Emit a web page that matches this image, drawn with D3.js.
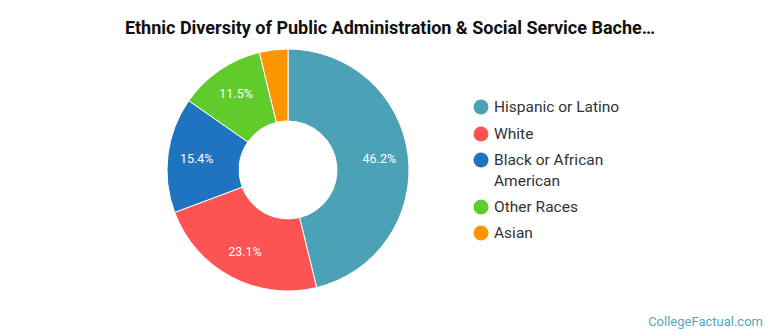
<!DOCTYPE html>
<html>
<head>
<meta charset="utf-8">
<script src="https://cdn.jsdelivr.net/npm/d3@7"></script>
<style>
  body { margin: 0; background: #fff; }
  text { font-family: Roboto, "Noto Sans", sans-serif; }
</style>
</head>
<body>
<div id="chart"></div>
<script>
const categories = ['Hispanic or Latino', 'White', 'Black or African American', 'Other Races', 'Asian']
const shares = [46.2, 23.1, 15.4, 11.5, 3.8]
const colors = ['#4ba1b6', '#fd5353', '#1f74c0', '#60cb2b', '#fd9500']
// legend lines; the long name wraps onto two rows
const legendLines = [['Hispanic or Latino'], ['White'], ['Black or African', 'American'], ['Other Races'], ['Asian']]

const width = 770
const height = 335

const svg = d3.select('#chart')
  .append('svg')
  .attr('width', width)
  .attr('height', height)

svg.append('text')
  .attr('x', 390)
  .attr('y', 34)
  .attr('text-anchor', 'middle')
  .attr('font-size', 18)
  .attr('font-weight', 'bold')
  .attr('fill', '#111')
  .text('Ethnic Diversity of Public Administration & Social Service Bache…')

const cx = 288
const cy = 170
const outer = 121
const inner = 49

const pie = d3.pie().sort(null).value((d) => d)
const arc = d3.arc().innerRadius(inner).outerRadius(outer)
const labelArc = d3.arc().innerRadius(92).outerRadius(92)

const g = svg.append('g').attr('transform', `translate(${cx},${cy})`)
const arcs = pie(shares)

g.selectAll('path')
  .data(arcs)
  .enter()
  .append('path')
  .attr('d', arc)
  .attr('fill', (d, i) => colors[i])
  .attr('stroke', '#fff')
  .attr('stroke-width', 1)

g.selectAll('.label')
  .data(arcs.filter((d) => d.data >= 5))
  .enter()
  .append('text')
  .attr('class', 'label')
  .attr('transform', (d) => `translate(${labelArc.centroid(d)})`)
  .attr('dy', '0.35em')
  .attr('text-anchor', 'middle')
  .attr('font-size', 12.5)
  .attr('fill', '#fff')
  .text((d) => d.data.toFixed(1) + '%')

// legend
const legendY = [107, 134, 160, 207, 233]
const legend = svg.append('g')
categories.forEach((c, i) => {
  legend.append('circle')
    .attr('cx', 481)
    .attr('cy', legendY[i])
    .attr('r', 7.5)
    .attr('fill', colors[i])
  legendLines[i].forEach((line, j) => {
    legend.append('text')
      .attr('x', 494)
      .attr('y', legendY[i] + j * 21)
      .attr('dy', '0.35em')
      .attr('font-size', 15.5)
      .attr('fill', '#333')
      .text(line)
  })
})

svg.append('text')
  .attr('x', 763)
  .attr('y', 326)
  .attr('text-anchor', 'end')
  .attr('font-size', 13)
  .attr('fill', '#5ba4b8')
  .text('CollegeFactual.com')
</script>
</body>
</html>
